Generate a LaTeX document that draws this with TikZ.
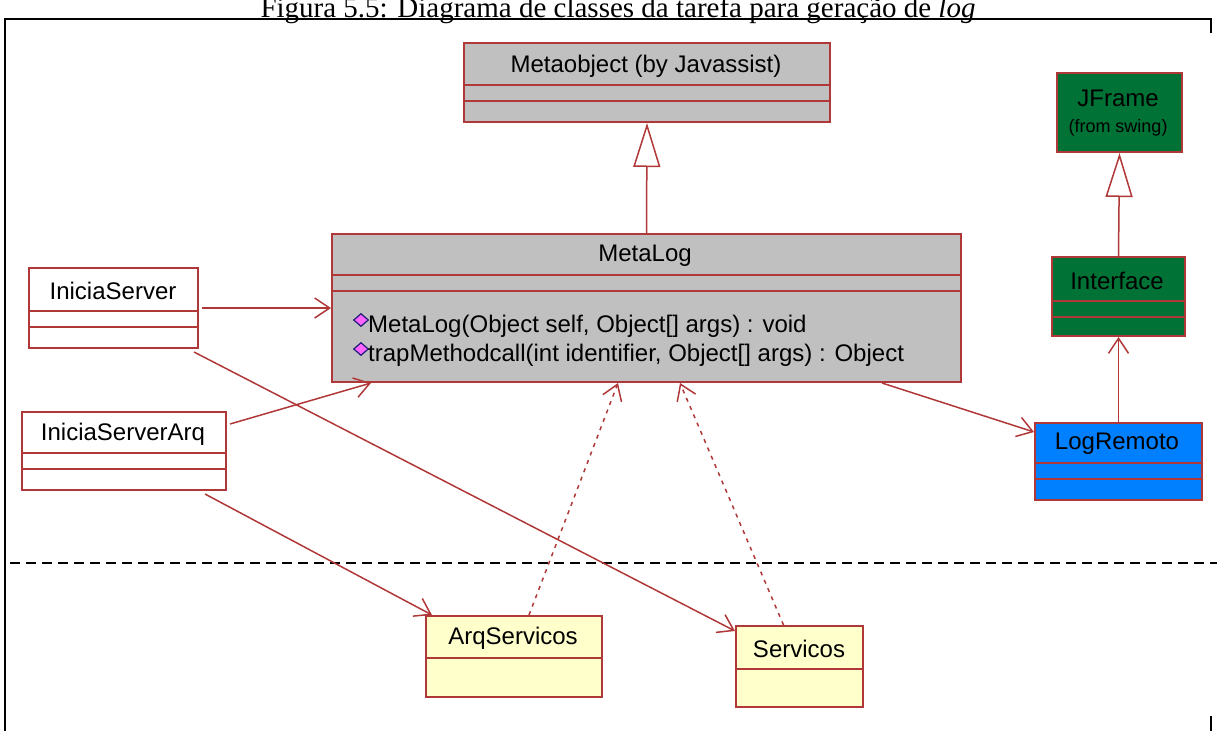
\documentclass[tikz,border=0pt]{standalone}
\usepackage{fontspec}
\setmainfont{Liberation Serif}
\newfontfamily\umlfont{Liberation Sans}
\usetikzlibrary{arrows.meta,shapes.geometric}

\definecolor{roseborder}{RGB}{176,56,56}
\definecolor{rosegray}{RGB}{192,192,192}
\definecolor{rosegreen}{RGB}{0,114,54}
\definecolor{roseblue}{RGB}{0,128,255}
\definecolor{roseyellow}{RGB}{255,255,204}
\definecolor{opfill}{RGB}{255,102,255}
\definecolor{opedge}{RGB}{30,30,120}

\tikzset{
  classbox/.style={draw=roseborder, line width=2pt, inner sep=0pt, anchor=north west},
  compartment/.style={draw=roseborder, line width=2pt},
  umltext/.style={font=\umlfont\fontsize{24}{28}\selectfont, inner sep=0pt},
  smalltext/.style={font=\umlfont\fontsize{18}{22}\selectfont, inner sep=0pt},
  optext/.style={umltext, anchor=west},
  opicon/.style={diamond, fill=opfill, draw=opedge, line width=1.2pt, inner sep=0pt,
                 minimum width=15pt, minimum height=13pt},
  assoc/.style={draw=roseborder, line width=1.5pt,
                -{Straight Barb[length=15pt,width=20pt,line width=1.5pt]}},
  depend/.style={assoc, dash pattern=on 4pt off 5pt},
  generalize/.style={draw=roseborder, line width=1.5pt,
                     -{Triangle[open,length=44pt,width=27pt,fill=white,line width=1.5pt]}},
  frameline/.style={draw=black, line width=2pt},
}

\begin{document}
\begin{tikzpicture}[x=1pt,y=-1pt]
\useasboundingbox (0,0) rectangle (1217,731);
\clip (0,0) rectangle (1217,731);

% caption (runs off the top of the page) and page frame
\node[font=\fontsize{29}{33}\selectfont, anchor=base, inner sep=0pt] (caption) at (618,17)
  {Figura 5.5: Diagrama de classes da tarefa para geração de \textit{log}};
\draw[frameline] (1211,33) -- (1211,19) -- (5,19) -- (5,731);
\draw[frameline] (1211,716) -- (1211,731);

% package boundary
\draw[black, line width=2pt, dash pattern=on 10pt off 6pt] (10,563) -- (1217,563);

% Metaobject
\node[classbox, fill=rosegray, minimum width=366pt, minimum height=79pt] (metaobj) at (463,42) {};
\draw[compartment] (463,85) -- (829,85);
\draw[compartment] (463,101) -- (829,101);
\node[umltext] (metaobjname) at (646,66) {Metaobject (by Javassist)};

% MetaLog
\node[classbox, fill=rosegray, minimum width=629pt, minimum height=148pt] (metalog) at (331,233) {};
\draw[compartment] (331,275) -- (960,275);
\draw[compartment] (331,291) -- (960,291);
\node[umltext] (metalogname) at (645,256) {MetaLog};
\node[opicon] (op1icon) at (361,320) {};
\node[optext] (op1) at (368,326) {MetaLog(Object self, Object[] args) : void};
\node[opicon] (op2icon) at (361,349) {};
\node[optext] (op2) at (368,355) {trapMethodcall(int identifier, Object[] args) : Object};

% JFrame
\node[classbox, fill=rosegreen, minimum width=125pt, minimum height=79pt] (jframe) at (1056,72) {};
\node[umltext] (jframename) at (1118,98) {JFrame};
\node[smalltext] (jframepkg) at (1118,128) {(from swing)};

% Interface
\node[classbox, fill=rosegreen, minimum width=133pt, minimum height=79pt] (interface) at (1051,256) {};
\draw[compartment] (1051,301) -- (1184,301);
\draw[compartment] (1051,317) -- (1184,317);
\node[umltext] (interfacename) at (1117,281) {Interface};

% LogRemoto
\node[classbox, fill=roseblue, minimum width=167pt, minimum height=77pt] (logremoto) at (1034,422) {};
\draw[compartment] (1034,463) -- (1201,463);
\draw[compartment] (1034,479) -- (1201,479);
\node[umltext] (logremotoname) at (1117,444) {LogRemoto};

% IniciaServer
\node[classbox, fill=white, minimum width=169pt, minimum height=80pt] (iniserver) at (28,267) {};
\draw[compartment] (28,311) -- (197,311);
\draw[compartment] (28,327) -- (197,327);
\node[umltext] (iniservername) at (113,291) {IniciaServer};

% IniciaServerArq
\node[classbox, fill=white, minimum width=204pt, minimum height=78pt] (iniarq) at (21,411) {};
\draw[compartment] (21,453) -- (225,453);
\draw[compartment] (21,469) -- (225,469);
\node[umltext] (iniarqname) at (123,434) {IniciaServerArq};

% ArqServicos
\node[classbox, fill=roseyellow, minimum width=176pt, minimum height=81pt] (arqserv) at (425,615) {};
\draw[compartment] (425,658) -- (601,658);
\node[umltext] (arqservname) at (513,638) {ArqServicos};

% Servicos
\node[classbox, fill=roseyellow, minimum width=127pt, minimum height=81pt] (servicos) at (735,625) {};
\draw[compartment] (735,669) -- (862,669);
\node[umltext] (servicosname) at (799,649) {Servicos};

% generalizations
\draw[generalize] (metalog.north) -- (metaobj.south);
\draw[generalize] (interface.north) -- (jframe.south);

% associations
\draw[assoc] (logremoto.north) -- (interface.south);
\draw[assoc] ([xshift=-80pt]metalog.south east) -- ([yshift=-10pt]logremoto.north west);
\draw[assoc] ([xshift=3pt]iniserver.east) -- (iniserver.east -| metalog.west);
\draw[assoc] ([xshift=3pt,yshift=27pt]iniarq.east) -- ([xshift=40pt]metalog.south west);
\draw[assoc] ([xshift=-5pt,yshift=-3pt]iniserver.south east) -- ([yshift=-6pt]servicos.north west);
\draw[assoc] ([xshift=-22pt,yshift=-3pt]iniarq.south east) -- ([xshift=7pt]arqserv.north west);

% dependencies
\draw[depend] ([xshift=15pt]arqserv.north) -- ([xshift=287pt]metalog.south west);
\draw[depend] ([xshift=-16pt]servicos.north) -- ([xshift=349pt]metalog.south west);
\end{tikzpicture}
\end{document}
